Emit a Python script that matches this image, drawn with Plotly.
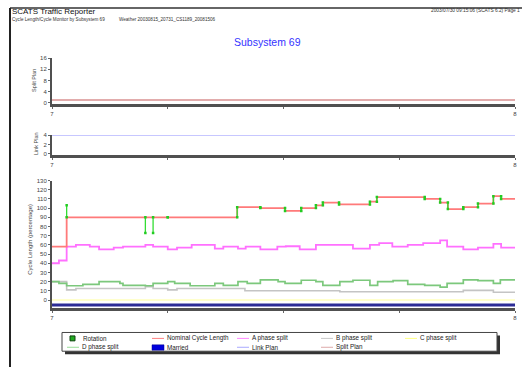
import plotly.graph_objects as go

# ---------------- data (minutes after 7:00) ----------------
nominal_min = [0, 1.9, 24.0, 27.0, 30.2, 32.3, 34.2, 35.1, 37.2, 41.2, 42.1, 48.3, 50.3, 51.3, 53.3, 55.2, 57.2, 58.2, 60]
nominal_val = [58, 90, 101, 100, 97, 100, 103, 106, 104, 107, 112, 110, 106, 99, 101, 105, 113, 110, 110]

a_min = [0, 0.9, 1.9, 3.1, 4.9, 6.1, 8.0, 9.2, 12.1, 13.1, 15.0, 16.2, 18.1, 21.1, 22.2, 24.1, 25.1, 27.0, 29.2,
         30.3, 32.1, 34.2, 39.0, 41.2, 42.4, 44.1, 46.1, 48.1, 50.3, 51.2, 53.3, 55.2, 57.2, 58.2, 60]
a_val = [40, 43, 58, 60, 58, 55, 57, 58, 60, 58, 55, 57, 60, 56, 58, 56, 58, 55, 58,
         58.5, 55, 60, 56, 60, 62, 58, 60, 62, 65, 58, 55, 57, 61, 57, 57]

b_min = [0, 1.9, 3.1, 12.1, 13.1, 15.0, 16.2, 25.0, 37.3, 53.3, 57.2, 60]
b_val = [20, 11, 12.5, 14.5, 12.5, 11, 12.5, 10, 9, 10.5, 8.5, 8.5]

c_min = [0, 60]
c_val = [0, 0]

d_min = [0, 0.9, 1.9, 4.0, 6.1, 8.8, 9.2, 12.1, 13.1, 15.0, 15.9, 17.9, 21.1, 22.2, 24.1, 25.3, 27.0, 29.3, 30.2,
         32.3, 34.2, 35.1, 37.3, 39.0, 41.2, 42.2, 44.2, 46.1, 48.3, 50.3, 51.2, 53.3, 55.2, 57.2, 58.1, 60]
d_val = [20, 18, 15.5, 17, 20, 18, 16, 15.5, 18, 20, 18, 15.5, 18, 16, 20, 18, 22, 20, 18,
         21.5, 20, 16, 20, 21.5, 16, 20, 21, 17, 16, 14, 18, 22, 21, 18, 22, 22]

married_min = [0, 60]
married_val = [-5.5, -5.5]

# rotation events: minute, value before, value after
rot_min = [1.9, 12.1, 13.1, 15.0, 24.0, 27.0, 30.2, 32.3, 34.2, 35.1, 37.2, 41.2, 42.1, 48.3, 50.3, 51.3, 53.3, 55.2, 57.2, 58.2]
rot_from = [90, 90, 90, 90, 90, 101, 100, 97, 100, 103, 106, 104, 107, 112, 110, 106, 99, 101, 105, 113]
rot_to = [103, 73, 73, 90, 101, 100, 97, 100, 103, 106, 104, 107, 112, 110, 106, 99, 101, 105, 113, 110]

split_plan_min = [0, 60]
split_plan_val = [1, 1]
link_plan_min = [0, 60]
link_plan_val = [4, 4]

x_tickvals = [7, 7.25, 7.5, 7.75, 8]
x_ticktext = ["7", "", "", "", "8"]


def hrs(mins):
    return [7 + m / 60.0 for m in mins]


FONT = "Liberation Sans, Arial, sans-serif"
W, H = 522, 369
L, R = 52, 515


def px_x(px):
    return (px - L) / (R - L)


def px_y(py):
    return 1 - py / H


fig = go.Figure()

# panel 1 - split plan
fig.add_trace(go.Scatter(x=hrs(split_plan_min), y=split_plan_val, mode="lines", line=dict(color="#d89090", width=1.5, shape="hv"),
                         xaxis="x3", yaxis="y3", showlegend=False, name="Split Plan"))
# panel 2 - link plan
fig.add_trace(go.Scatter(x=hrs(link_plan_min), y=link_plan_val, mode="lines", line=dict(color="#b4b4ff", width=1.5, shape="hv"),
                         xaxis="x2", yaxis="y2", showlegend=False, name="Link Plan"))

# panel 3
fig.add_trace(go.Scatter(x=hrs(c_min), y=c_val, mode="lines", line=dict(color="#ffff99", width=1.2, shape="hv"),
                         showlegend=False, name="C phase split"))
fig.add_trace(go.Scatter(x=hrs(b_min), y=b_val, mode="lines", line=dict(color="#c4c4c4", width=1.6, shape="hv"),
                         showlegend=False, name="B phase split"))
fig.add_trace(go.Scatter(x=hrs(d_min), y=d_val, mode="lines", line=dict(color="#7cc87c", width=1.7, shape="hv"),
                         showlegend=False, name="D phase split"))
fig.add_trace(go.Scatter(x=hrs(a_min), y=a_val, mode="lines", line=dict(color="#ff70ff", width=1.8, shape="hv"),
                         showlegend=False, name="A phase split"))
fig.add_trace(go.Scatter(x=hrs(nominal_min), y=nominal_val, mode="lines", line=dict(color="#ff7a7a", width=1.8, shape="hv"),
                         showlegend=False, name="Nominal Cycle Length"))
rx, ry = [], []
for m, a, b in zip(rot_min, rot_from, rot_to):
    rx += [7 + m / 60.0, 7 + m / 60.0, None]
    ry += [a, b, None]
fig.add_trace(go.Scatter(x=rx, y=ry, mode="lines+markers", line=dict(color="#33dd33", width=1.3),
                         marker=dict(symbol="square", size=2.5, color="#22cc22"),
                         showlegend=False, name="Rotation"))
fig.add_trace(go.Scatter(x=hrs(married_min), y=married_val, mode="lines", line=dict(color="#2c2c96", width=3),
                         showlegend=False, name="Married"))

axis_common = dict(showgrid=False, zeroline=False, showline=True, linecolor="#505050",
                   tickfont=dict(family=FONT, size=6, color="#444"), ticks="outside", ticklen=2,
                   tickcolor="#666")
xcommon = dict(axis_common, range=[7, 8], tickmode="array", tickvals=x_tickvals, ticktext=x_ticktext,
               domain=[0, 1], linewidth=2.5, ticklen=2)

fig.update_layout(
    width=W, height=H,
    margin=dict(l=L, r=W - R, t=0, b=0),
    paper_bgcolor="white", plot_bgcolor="white",
    showlegend=False,
    xaxis=dict(xcommon, anchor="y"),
    xaxis2=dict(xcommon, anchor="y2"),
    xaxis3=dict(xcommon, anchor="y3"),
    yaxis=dict(axis_common, anchor="x", range=[-8.5, 130], tickvals=list(range(0, 131, 10)),
               domain=[px_y(309), px_y(180)], linewidth=2),
    yaxis2=dict(axis_common, anchor="x2", range=[-0.3, 4], tickvals=[0, 2, 4],
                domain=[px_y(154.5), px_y(134)], linewidth=2),
    yaxis3=dict(axis_common, anchor="x3", range=[-0.5, 16], tickvals=[0, 4, 8, 12, 16],
                domain=[px_y(102.5), px_y(56)], linewidth=2),
)

ann = []


def text(x, y, s, size, color="#222", anchor="left", angle=0, yanchor="middle"):
    ann.append(dict(x=px_x(x), y=px_y(y), xref="paper", yref="paper", text=s, showarrow=False,
                    xanchor=anchor, yanchor=yanchor, textangle=angle, borderpad=0,
                    font=dict(family=FONT, size=size, color=color)))


text(11, 9, "SCATS Traffic Reporter", 8, "#111")
text(11, 16.5, "Cycle Length/Cycle Monitor by Subsystem 69", 4.6, "#333")
text(118, 16.5, "Weather 20030815_20731_CS1189_20081506", 4.6, "#333")
text(521, 8, "2003/07/30 09:15:06 (SCATS 6.2) Page 1", 4.8, "#333", anchor="right")
text(267, 40, "Subsystem 69", 10.5, "#3333ff", anchor="center")
text(34, 79, "Split Plan", 5.5, "#444", anchor="center", angle=-90)
text(36, 143, "Link Plan", 5.5, "#444", anchor="center", angle=-90)
text(30, 240, "Cycle Length (percentage)", 6, "#444", anchor="center", angle=-90)

shapes = []
# page frame
shapes.append(dict(type="line", xref="paper", yref="paper", x0=px_x(10), x1=px_x(522), y0=px_y(5), y1=px_y(5),
                   line=dict(color="#333", width=1.5)))
shapes.append(dict(type="line", xref="paper", yref="paper", x0=px_x(10), x1=px_x(10), y0=px_y(5), y1=px_y(369),
                   line=dict(color="#222", width=2)))
# legend box with shadow
shapes.append(dict(type="rect", xref="paper", yref="paper", x0=px_x(65), x1=px_x(500), y0=px_y(356), y1=px_y(337),
                   fillcolor="#333", line=dict(width=0), layer="above"))
shapes.append(dict(type="rect", xref="paper", yref="paper", x0=px_x(62), x1=px_x(497), y0=px_y(353), y1=px_y(334),
                   fillcolor="white", line=dict(color="#444", width=1), layer="above"))

legend_items = [
    ("Rotation", "square", "#22aa22", 70, 340),
    ("Nominal Cycle Length", "line", "#ff8080", 152, 340),
    ("A phase split", "line", "#ff88ff", 237, 340),
    ("B phase split", "line", "#c8c8c8", 321, 340),
    ("C phase split", "line", "#ffff80", 405, 340),
    ("D phase split", "line", "#99dd99", 67, 349),
    ("Married", "rect", "#0000dd", 152, 349),
    ("Link Plan", "line", "#aaaaff", 237, 349),
    ("Split Plan", "line", "#ddaaaa", 321, 349),
]
for name, kind, color, x0, yc in legend_items:
    if kind == "square":
        shapes.append(dict(type="rect", xref="paper", yref="paper", x0=px_x(x0), x1=px_x(x0 + 5),
                           y0=px_y(yc + 2.5), y1=px_y(yc - 2.5), fillcolor=color,
                           line=dict(color="#114411", width=1), layer="above"))
        text(x0 + 12, yc, name, 6.3)
    elif kind == "rect":
        shapes.append(dict(type="rect", xref="paper", yref="paper", x0=px_x(x0), x1=px_x(x0 + 12),
                           y0=px_y(yc + 3), y1=px_y(yc - 2.5), fillcolor=color,
                           line=dict(color="#000088", width=0.5), layer="above"))
        text(x0 + 14, yc, name, 6.3)
    else:
        shapes.append(dict(type="line", xref="paper", yref="paper", x0=px_x(x0), x1=px_x(x0 + 12),
                           y0=px_y(yc), y1=px_y(yc), line=dict(color=color, width=1), layer="above"))
        text(x0 + 14, yc, name, 6.3)

fig.update_layout(annotations=ann, shapes=shapes)
fig.write_html("out.html", config={"displayModeBar": False},
               post_script="document.body.style.margin='0';document.body.style.overflow='hidden';")
